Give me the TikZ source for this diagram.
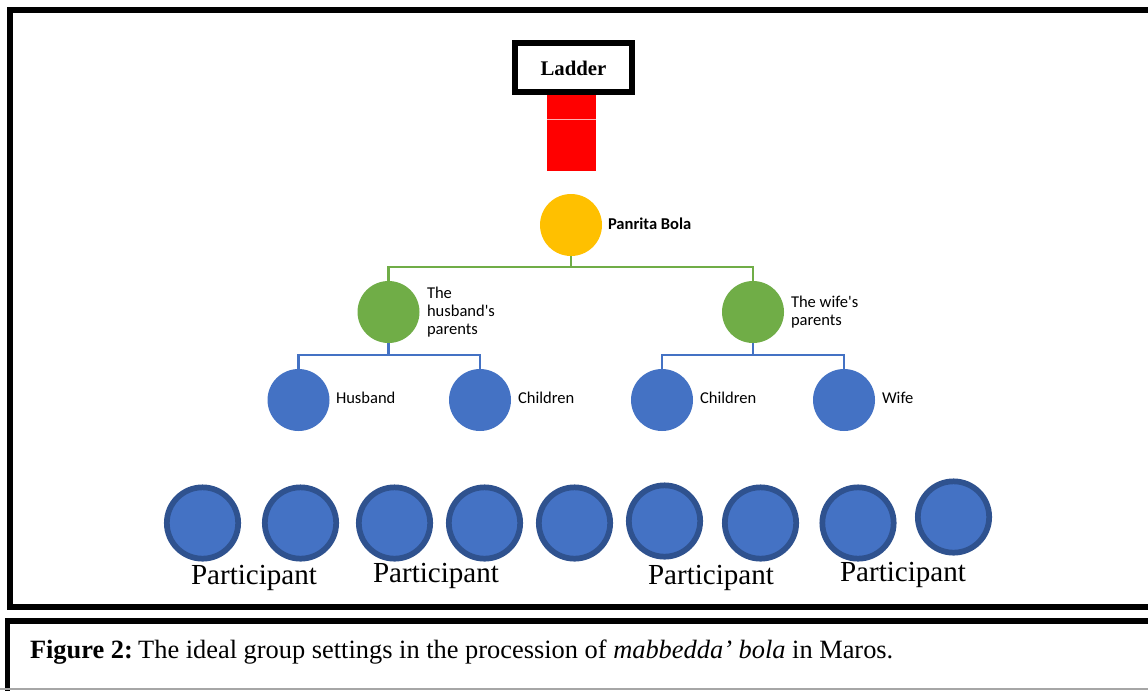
\documentclass[tikz,border=0pt]{standalone}
\usepackage{fontspec}
\setmainfont{Liberation Serif}
\newfontfamily\calib{Carlito}
\definecolor{gold}{HTML}{FFC000}
\definecolor{leaf}{HTML}{70AD47}
\definecolor{sky}{HTML}{4472C4}
\definecolor{navy}{HTML}{2F528F}
\tikzset{
  every node/.style={inner sep=0pt, outer sep=0pt},
  frame/.style={draw=black, line width=4.5pt},
  person/.style={circle, fill=sky, minimum size=46.5pt},
  parent/.style={circle, fill=leaf, minimum size=46.5pt},
  head/.style={circle, fill=gold, minimum size=46.5pt},
  crowd/.style={circle, fill=sky, draw=navy, line width=4.3pt, minimum size=53.5pt},
  lbl/.style={anchor=west, font=\calib\fontsize{12.4pt}{13.5pt}\selectfont, align=left},
  plbl/.style={anchor=base, font=\fontsize{21.8pt}{24pt}\selectfont},
  gline/.style={draw=leaf, line width=1.6pt},
  bline/.style={draw=sky, line width=1.6pt},
}
\begin{document}
\begin{tikzpicture}[x=0.75pt, y=-0.75pt]
\useasboundingbox (0,0) rectangle (1148,690);
\fill[white] (0,0) rectangle (1148,690);
% frames
\draw[frame] (1170,9.5) -- (9.5,9.5) -- (9.5,606.5) -- (1170,606.5);
\draw[frame, line width=4pt] (1170,621) -- (7.5,621) -- (7.5,700);
\draw[gray!70, line width=1pt] (0,689) -- (1148,689);
% ladder
\fill[red] (547,95) rectangle (596,171);
\draw[white!70!red, line width=0.4pt] (547,119) -- (596,119);
\draw[draw=black, line width=4.5pt, fill=white] (515,43) rectangle (632,92);
\node[font=\bfseries\fontsize{15.6pt}{18pt}\selectfont] (ladder) at (573.5,68) {Ladder};
% hierarchy
\node[head] (pb) at (571,225) {};
\node[lbl, font=\calib\bfseries\fontsize{12.4pt}{13.5pt}\selectfont] (pbl) at (608,224) {Panrita Bola};
\node[parent] (hp) at (388.5,312) {};
\node[parent] (wp) at (753,312) {};
\node[lbl] (hpl) at (427,312) {The\\husband's\\parents};
\node[lbl] (wpl) at (791,312) {The wife's\\parents};
\node[person] (hu) at (298.5,400) {};
\node[person] (c1) at (480,400) {};
\node[person] (c2) at (662,400) {};
\node[person] (wi) at (844,400) {};
\node[lbl] (hul) at (336,398) {Husband};
\node[lbl] (c1l) at (518,398) {Children};
\node[lbl] (c2l) at (700,398) {Children};
\node[lbl] (wil) at (882,398) {Wife};
\draw[gline] (pb.south) -- ++(0,11) coordinate (gm);
\draw[gline] (hp.north) |- (gm) -| (wp.north);
\draw[bline] (hp.south) -- ++(0,12) coordinate (bm1);
\draw[bline] (hu.north) |- (bm1) -| (c1.north);
\draw[bline] (wp.south) -- ++(0,12) coordinate (bm2);
\draw[bline] (c2.north) |- (bm2) -| (wi.north);
% participants
\node[crowd] (p1) at (202.5,523) {};
\node[crowd] (p2) at (300.5,523) {};
\node[crowd] (p3) at (394.5,523) {};
\node[crowd] (p4) at (484.5,523) {};
\node[crowd] (p5) at (574.5,523) {};
\node[crowd] (p6) at (664.5,521) {};
\node[crowd] (p7) at (760.5,523) {};
\node[crowd] (p8) at (858,523) {};
\node[crowd] (p9) at (953.5,517) {};
\node[plbl] (l1) at (254,584) {Participant};
\node[plbl] (l2) at (436,582) {Participant};
\node[plbl] (l3) at (711,584) {Participant};
\node[plbl] (l4) at (903,581) {Participant};
% caption
\node[anchor=base west, font=\fontsize{19.8pt}{23pt}\selectfont] (cap) at (30,658) {\textbf{Figure 2:}\hspace{0.2em}The ideal group settings in the procession of \textit{mabbedda’ bola} in Maros.};
\end{tikzpicture}
\end{document}
